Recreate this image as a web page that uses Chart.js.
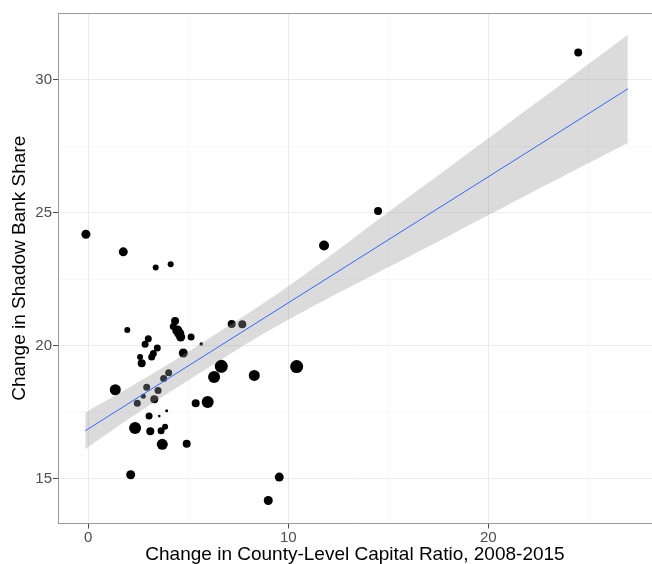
<!DOCTYPE html>
<html>
<head>
<meta charset="utf-8">
<script src="https://cdn.jsdelivr.net/npm/chart.js@4.4.1/dist/chart.umd.min.js"></script>
<style>
  html, body { margin: 0; padding: 0; background: #fff; }
  #wrap { width: 652px; height: 564px; position: relative; }
</style>
</head>
<body>
<div id="wrap"><canvas id="c" width="652" height="564"></canvas></div>
<script>
// ---- data ----
const capitalRatioChange = [-0.12, 1.75, 3.37, 4.12, 1.95, 4.34, 4.25, 4.45, 4.55, 4.62, 5.14, 5.65, 3.0, 2.84, 3.45, 2.59, 3.25, 3.17, 2.67, 4.75, 7.17, 7.7, 6.65, 6.29, 8.3, 10.42, 4.02, 3.77, 1.35, 2.92, 3.49, 2.75, 3.3, 2.45, 5.37, 5.97, 3.04, 3.55, 3.92, 2.34, 3.1, 3.64, 3.84, 3.7, 4.92, 2.12, 9.55, 9.0, 14.49, 11.79, 24.5];
const shadowShareChange = [24.19, 23.53, 22.94, 23.06, 20.59, 20.93, 20.73, 20.58, 20.46, 20.33, 20.33, 20.07, 20.27, 20.06, 19.92, 19.58, 19.71, 19.58, 19.35, 19.73, 20.82, 20.81, 19.23, 18.83, 18.89, 19.22, 18.99, 18.77, 18.35, 18.44, 18.32, 18.11, 17.99, 17.84, 17.84, 17.89, 17.36, 17.36, 17.56, 16.91, 16.79, 16.81, 16.96, 16.3, 16.32, 15.16, 15.07, 14.19, 25.06, 23.77, 31.02];
const countyWeight = [4.5, 4.5, 3, 3, 3, 4, 3.5, 5, 5, 4.5, 3.5, 1.8, 3.5, 3.5, 3.5, 3, 3.5, 3.5, 4, 4.5, 4, 4, 6.5, 6, 5.5, 6.5, 3.5, 3.5, 5.5, 3.5, 3.5, 2.5, 4, 3.5, 4, 6, 3.5, 1.3, 1.5, 6, 4, 3.5, 3, 5.5, 4, 4.5, 4.5, 4.5, 4, 5, 4];

const fitX = [-0.15, 26.98];
const fitY = [16.81, 29.65];
const bandX = [-0.15, 2, 4, 6, 8, 10, 12, 15, 18, 21, 24, 26.98];
const bandUpper = [17.50, 18.42, 19.31, 20.26, 21.22, 22.24, 23.33, 25.02, 26.68, 28.35, 30.01, 31.68];
const bandLower = [16.12, 17.24, 18.23, 19.18, 20.12, 20.98, 21.79, 22.95, 24.12, 25.30, 26.47, 27.62];

const xTicks = [0, 5, 10, 15, 20, 25];
const xTickLabels = [0, 10, 20];
const yTicks = [15, 17.5, 20, 22.5, 25, 27.5, 30];
const yTickLabels = [15, 20, 25, 30];

const xTitle = 'Change in County-Level Capital Ratio, 2008-2015';
const yTitle = 'Change in Shadow Bank Share';

// ---- build datasets ----
const pts = capitalRatioChange.map((x, i) => ({ x: x, y: shadowShareChange[i] }));
const fitPts = fitX.map((x, i) => ({ x: x, y: fitY[i] }));
const upPts = bandX.map((x, i) => ({ x: x, y: bandUpper[i] }));
const loPts = bandX.map((x, i) => ({ x: x, y: bandLower[i] }));

const FONT = "'Liberation Sans', Arial, sans-serif";

const panelBorder = {
  id: 'panelBorder',
  afterDraw(chart) {
    const { ctx, chartArea: a } = chart;
    ctx.save();
    ctx.strokeStyle = '#9a9a9a';
    ctx.lineWidth = 1;
    ctx.beginPath();
    ctx.moveTo(a.left, a.top + 0.5);
    ctx.lineTo(a.right, a.top + 0.5);
    ctx.stroke();
    ctx.restore();
  }
};

const gridColor = (majors) => (c) => (c.tick && majors.includes(c.tick.value)) ? '#EBEBEB' : '#F4F4F4';
const gridWidth = (majors) => (c) => (c.tick && majors.includes(c.tick.value)) ? 1 : 0.6;
const tickCol = (majors) => (c) => (c.tick && majors.includes(c.tick.value)) ? '#4D4D4D' : 'rgba(0,0,0,0)';
const noPad = (s) => { s.paddingLeft = 0; s.paddingRight = 0; s.paddingTop = 0; s.paddingBottom = 0; };

new Chart(document.getElementById('c'), {
  data: {
    datasets: [
      {
        type: 'line', data: fitPts, borderColor: '#3366FF', borderWidth: 1,
        pointRadius: 0, fill: false, order: -1
      },
      {
        type: 'line', data: upPts, borderWidth: 0, borderColor: 'rgba(0,0,0,0)',
        pointRadius: 0, fill: '+1', backgroundColor: 'rgba(153,153,153,0.35)',
        tension: 0.3, order: 0
      },
      {
        type: 'line', data: loPts, borderWidth: 0, borderColor: 'rgba(0,0,0,0)',
        pointRadius: 0, fill: false, tension: 0.3, order: 0
      },
      {
        type: 'scatter', data: pts, backgroundColor: '#000', borderWidth: 0,
        pointRadius: (c) => countyWeight[c.dataIndex], pointHoverRadius: (c) => countyWeight[c.dataIndex],
        order: 2
      }
    ]
  },
  options: {
    responsive: false,
    animation: false,
    events: [],
    layout: { autoPadding: false, padding: { top: 13, right: 0, left: 0, bottom: 0 } },
    plugins: { legend: { display: false }, tooltip: { enabled: false } },
    scales: {
      x: {
        type: 'linear', min: -1.515, max: 28.19,
        afterBuildTicks: (s) => { s.ticks = xTicks.map(v => ({ value: v })); },
        afterFit: (s) => { s.height = 40.5; noPad(s); },
        ticks: {
          autoSkip: false, maxRotation: 0, padding: 0,
          color: '#4D4D4D', font: { family: FONT, size: 15 },
          callback: (v) => xTickLabels.includes(v) ? String(v) : ''
        },
        grid: { color: gridColor(xTickLabels), lineWidth: gridWidth(xTickLabels), tickColor: tickCol(xTickLabels), tickLength: 5, tickWidth: 1 },
        border: { display: true, color: '#9a9a9a', width: 1 },
        title: { display: true, text: xTitle, color: '#000', font: { family: FONT, size: 19 }, padding: { top: 0, bottom: -2 } }
      },
      y: {
        type: 'linear', min: 13.327, max: 32.5,
        afterBuildTicks: (s) => { s.ticks = yTicks.map(v => ({ value: v })); },
        afterFit: (s) => { s.width = 58; noPad(s); },
        ticks: {
          autoSkip: false, padding: 1,
          color: '#4D4D4D', font: { family: FONT, size: 15 },
          callback: (v) => yTickLabels.includes(v) ? String(v) : ''
        },
        grid: { color: gridColor(yTickLabels), lineWidth: gridWidth(yTickLabels), tickColor: tickCol(yTickLabels), tickLength: 5, tickWidth: 1 },
        border: { display: true, color: '#9a9a9a', width: 1 },
        title: { display: true, text: yTitle, color: '#000', font: { family: FONT, size: 19 }, padding: { top: 8, bottom: 0 } }
      }
    }
  },
  plugins: [panelBorder]
});
</script>
</body>
</html>
